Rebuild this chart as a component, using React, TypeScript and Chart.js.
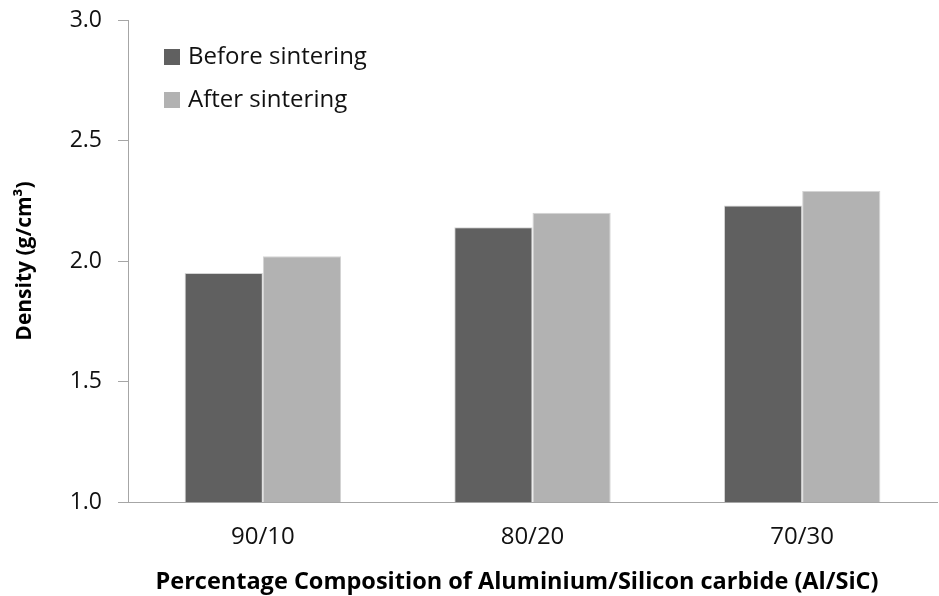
import React, { useEffect, useRef } from "react";
import { Chart, registerables } from "chart.js";

Chart.register(...registerables);

const categories = ["90/10", "80/20", "70/30"];
const beforeSintering = [1.95, 2.14, 2.23];
const afterSintering = [2.02, 2.2, 2.29];
const seriesLabels = ["Before sintering", "After sintering"];
const yTitle = "Density (g/cm³)";
const xTitle = "Percentage Composition of Aluminium/Silicon carbide (Al/SiC)";

const FONT = "'Open Sans', 'Liberation Sans', sans-serif";

const legendPlugin = {
  id: "insideLegend",
  afterDraw(chart: any) {
    const ctx = chart.ctx;
    ctx.save();
    ctx.font = `24px ${FONT}`;
    ctx.textBaseline = "middle";
    ctx.textAlign = "left";
    chart.data.datasets.forEach((ds: any, i: number) => {
      const cy = 57 + i * 43;
      ctx.fillStyle = ds.backgroundColor;
      ctx.fillRect(164, cy - 8, 16, 16);
      ctx.fillStyle = "#111";
      ctx.fillText(ds.label, 188, cy);
    });
    ctx.restore();
  },
};

const xTitlePlugin = {
  id: "xTitle",
  afterDraw(chart: any) {
    const ctx = chart.ctx;
    ctx.save();
    ctx.font = `bold 23.5px ${FONT}`;
    ctx.textBaseline = "middle";
    ctx.textAlign = "center";
    ctx.fillStyle = "#000";
    ctx.fillText(xTitle, 517, 582);
    ctx.restore();
  },
};

export default function App() {
  const ref = useRef<HTMLCanvasElement | null>(null);
  useEffect(() => {
    if (!ref.current) return;
    const chart = new Chart(ref.current, {
      type: "bar",
      data: {
        labels: categories,
        datasets: [
          {
            label: seriesLabels[0],
            data: beforeSintering,
            backgroundColor: "#606060",
            borderColor: "#d4d4d4",
            borderWidth: 1,
            categoryPercentage: 0.58,
            barPercentage: 1,
          },
          {
            label: seriesLabels[1],
            data: afterSintering,
            backgroundColor: "#b2b2b2",
            borderColor: "#d4d4d4",
            borderWidth: 1,
            categoryPercentage: 0.58,
            barPercentage: 1,
          },
        ],
      },
      options: {
        animation: false,
        responsive: false,
        maintainAspectRatio: false,
        layout: { padding: { top: 20, right: 2, left: 0, bottom: 0 } },
        plugins: {
          legend: { display: false },
          tooltip: { enabled: false },
        },
        scales: {
          x: {
            grid: { display: false, drawTicks: false },
            border: { color: "#a6a6a6", width: 1 },
            ticks: {
              padding: 21,
              color: "#111",
              font: { family: FONT, size: 24 },
            },
            afterFit(scale: any) {
              scale.height = 94;
              scale.paddingLeft = 0;
              scale.paddingRight = 0;
            },
          },
          y: {
            min: 1,
            max: 3,
            ticks: {
              stepSize: 0.5,
              padding: 16,
              color: "#111",
              font: { family: FONT, size: 23 },
              callback: (v: any) => Number(v).toFixed(1),
            },
            grid: {
              drawOnChartArea: false,
              drawTicks: true,
              tickLength: 10,
              color: "#a6a6a6",
            },
            border: { color: "#a6a6a6", width: 1 },
            title: {
              display: true,
              text: yTitle,
              color: "#000",
              font: { family: FONT, size: 21, weight: "bold" },
              padding: { top: 12, bottom: 0 },
            },
            afterFit(scale: any) {
              scale.width = 128;
              scale.paddingTop = 0;
              scale.paddingBottom = 0;
            },
          },
        },
      },
      plugins: [legendPlugin, xTitlePlugin],
    });
    return () => chart.destroy();
  }, []);
  return (
    <div style={{ position: "absolute", left: 0, top: 0, width: 939, height: 596, background: "#fff" }}>
      <canvas ref={ref} width={939} height={596} style={{ display: "block" }} />
    </div>
  );
}
